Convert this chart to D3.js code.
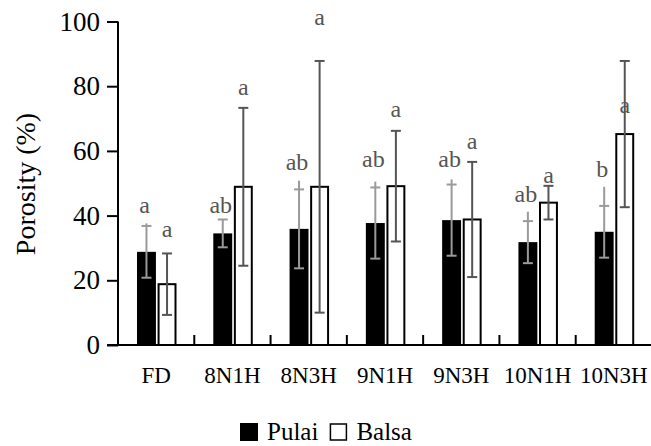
<!DOCTYPE html>
<html>
<head>
<meta charset="utf-8">
<script src="https://cdn.jsdelivr.net/npm/d3@7"></script>
<style>
    body { margin: 0; background: #fff; }
    svg { display: block; }
</style>
</head>
<body>
<div class="chart"></div>
<script>
// Data.
const categories = ['FD', '8N1H', '8N3H', '9N1H', '9N3H', '10N1H', '10N3H'];
const series = ['Pulai', 'Balsa'];

const pulaiMean = [28.8, 34.5, 35.9, 37.7, 38.6, 31.8, 35.0];
const pulaiSd = [8.0, 4.3, 12.2, 11.0, 11.0, 6.5, 8.0];
const pulaiMax = [37.6, 38.4, 50.8, 50.5, 51.2, 41.2, 48.9];   // top of the grey whisker line
const pulaiLetters = ['a', 'ab', 'ab', 'ab', 'ab', 'ab', 'b'];
const pulaiLetterAt = [40.8, 40.7, 54.2, 55.1, 54.9, 44.3, 52.0];

const balsaMean = [18.8, 48.9, 48.9, 49.1, 38.8, 44.0, 65.2];
const balsaSd = [9.5, 24.4, 38.9, 17.1, 17.8, 5.2, 22.6];
const balsaLetters = ['a', 'a', 'a', 'a', 'a', 'a', 'a'];
const balsaLetterAt = [33.5, 77.3, 98.9, 70.4, 60.5, 50.2, 71.8];

const yTicks = [0, 20, 40, 60, 80, 100];

// Dimensions & fonts.
const width = 651, height = 446;
const plot = { left: 118, right: 652, top: 21.5, bottom: 345 };
const serif = "'Liberation Serif', 'Times New Roman', Times, serif";

const svg = d3.select('.chart')
    .append('svg')
        .attr('width', width)
        .attr('height', height)
        .style('font-family', serif);

// Scales.
const x0 = d3.scaleBand()
    .domain(categories)
    .range([plot.left, plot.right])
    .padding(0);

const x1 = d3.scaleBand()
    .domain(series)
    .range([19, 58.5])
    .paddingInner(0.08);

const y = d3.scaleLinear()
    .domain([0, 100])
    .range([plot.bottom, plot.top]);

const rows = categories.map((c, i) => ({
    cat: c,
    pulai: { mean: pulaiMean[i], sd: pulaiSd[i], max: pulaiMax[i], letter: pulaiLetters[i], at: pulaiLetterAt[i] },
    balsa: { mean: balsaMean[i], sd: balsaSd[i], letter: balsaLetters[i], at: balsaLetterAt[i] }
}));

const capHalf = 5;

// Bars.
const groups = svg.append('g').attr('class', 'bars')
    .selectAll('g')
    .data(rows)
    .join('g')
        .attr('transform', d => `translate(${x0(d.cat)},0)`);

groups.append('rect')
    .attr('x', x1('Pulai'))
    .attr('y', d => y(d.pulai.mean))
    .attr('width', x1.bandwidth())
    .attr('height', d => y(0) - y(d.pulai.mean))
    .attr('fill', '#000');

groups.append('rect')
    .attr('x', x1('Balsa') + 1)
    .attr('y', d => y(d.balsa.mean))
    .attr('width', x1.bandwidth() - 2)
    .attr('height', d => y(0) - y(d.balsa.mean))
    .attr('fill', '#fff')
    .attr('stroke', '#000')
    .attr('stroke-width', 2);

// Pulai error bars (light grey).
const pc = x1('Pulai') + x1.bandwidth() / 2;
const pErr = groups.append('g')
    .attr('stroke', '#9a9a9a')
    .attr('stroke-width', 2);
pErr.append('line')
    .attr('x1', pc).attr('x2', pc)
    .attr('y1', d => y(d.pulai.mean - d.pulai.sd))
    .attr('y2', d => y(Math.max(d.pulai.max, d.pulai.mean + d.pulai.sd)));
pErr.append('line')
    .attr('x1', pc - capHalf).attr('x2', pc + capHalf)
    .attr('y1', d => y(d.pulai.mean + d.pulai.sd))
    .attr('y2', d => y(d.pulai.mean + d.pulai.sd));
pErr.append('line')
    .attr('x1', pc - capHalf).attr('x2', pc + capHalf)
    .attr('y1', d => y(d.pulai.mean - d.pulai.sd))
    .attr('y2', d => y(d.pulai.mean - d.pulai.sd));

// Balsa error bars (dark grey).
const bc = x1('Balsa') + x1.bandwidth() / 2;
const bErr = groups.append('g')
    .attr('stroke', '#555')
    .attr('stroke-width', 2);
bErr.append('line')
    .attr('x1', bc).attr('x2', bc)
    .attr('y1', d => y(d.balsa.mean - d.balsa.sd))
    .attr('y2', d => y(d.balsa.mean + d.balsa.sd));
bErr.append('line')
    .attr('x1', bc - capHalf).attr('x2', bc + capHalf)
    .attr('y1', d => y(d.balsa.mean + d.balsa.sd))
    .attr('y2', d => y(d.balsa.mean + d.balsa.sd));
bErr.append('line')
    .attr('x1', bc - capHalf).attr('x2', bc + capHalf)
    .attr('y1', d => y(d.balsa.mean - d.balsa.sd))
    .attr('y2', d => y(d.balsa.mean - d.balsa.sd));

// Letters.
groups.append('text')
    .attr('x', pc - 2)
    .attr('y', d => y(d.pulai.at))
    .attr('text-anchor', 'middle')
    .attr('font-size', 24)
    .attr('fill', '#555')
    .text(d => d.pulai.letter);

groups.append('text')
    .attr('x', bc)
    .attr('y', d => y(d.balsa.at))
    .attr('text-anchor', 'middle')
    .attr('font-size', 24)
    .attr('fill', '#555')
    .text(d => d.balsa.letter);

// Y axis.
const yAxis = svg.append('g')
    .attr('transform', `translate(${plot.left},0)`)
    .call(d3.axisLeft(y).tickValues(yTicks).tickSize(11).tickPadding(7))
    .attr('font-family', null)
    .attr('font-size', null);
yAxis.select('.domain').attr('stroke', '#000').attr('stroke-width', 2)
    .attr('d', `M0,${plot.top}V${plot.bottom}`);
yAxis.selectAll('.tick line').attr('stroke', '#000').attr('stroke-width', 2);
yAxis.selectAll('.tick text')
    .attr('font-size', 27)
    .attr('fill', '#000');

// X axis.
const xAxis = svg.append('g').attr('class', 'x-axis');
xAxis.append('line')
    .attr('x1', plot.left - 11).attr('x2', width)
    .attr('y1', y(0)).attr('y2', y(0))
    .attr('stroke', '#000').attr('stroke-width', 2);
xAxis.selectAll('.sep')
    .data(categories.slice(1))
    .join('line')
        .attr('class', 'sep')
        .attr('x1', d => x0(d)).attr('x2', d => x0(d))
        .attr('y1', y(0)).attr('y2', y(0) - 10)
        .attr('stroke', '#000').attr('stroke-width', 2);
xAxis.selectAll('.lab')
    .data(categories)
    .join('text')
        .attr('class', 'lab')
        .attr('x', d => x0(d) + x0.bandwidth() / 2)
        .attr('y', 383)
        .attr('text-anchor', 'middle')
        .attr('font-size', 23)
        .text(d => d);

// Y label.
svg.append('text')
    .attr('transform', 'translate(35,184) rotate(-90)')
    .attr('text-anchor', 'middle')
    .attr('font-size', 28)
    .text('Porosity (%)');

// Legend.
const legend = svg.append('g').attr('transform', 'translate(240,0)');
let lx = 0;
series.forEach((s, i) => {
    legend.append('rect')
        .attr('x', lx + (i ? 1 : 0))
        .attr('y', i ? 424 : 423)
        .attr('width', i ? 16 : 18)
        .attr('height', i ? 16 : 18)
        .attr('fill', i ? '#fff' : '#000')
        .attr('stroke', i ? '#000' : 'none')
        .attr('stroke-width', 1.5);
    const t = legend.append('text')
        .attr('x', lx + 27)
        .attr('y', 440)
        .attr('font-size', 25)
        .text(s);
    lx += 27 + t.node().getComputedTextLength() + 11;
});
</script>
</body>
</html>
